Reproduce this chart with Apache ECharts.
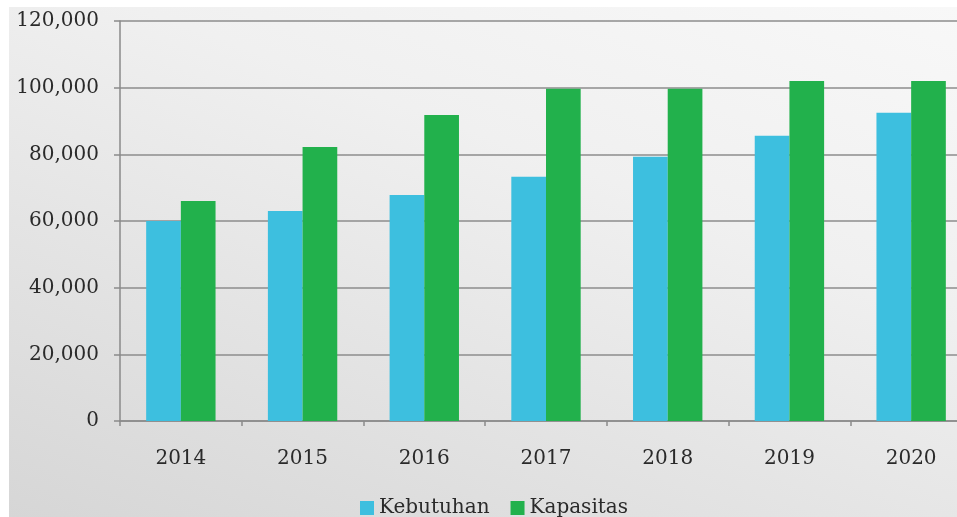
<!DOCTYPE html>
<html>
<head>
<meta charset="utf-8">
<script src="https://cdn.jsdelivr.net/npm/echarts@6/dist/echarts.min.js"></script>
<style>
html,body{margin:0;padding:0;background:#fff;}
#wrap{position:relative;width:957px;height:517px;overflow:hidden;background:#fff;}
#bg{position:absolute;left:9px;top:7px;right:0;bottom:0;background:linear-gradient(200deg,#f8f8f8 0%,#f0f0f0 35%,#e2e2e2 70%,#d6d6d6 100%);}
#c{position:absolute;left:0;top:0;width:957px;height:517px;}
</style>
</head>
<body>
<div id="wrap"><div id="bg"></div><div id="c"></div></div>
<script>
const years = ['2014','2015','2016','2017','2018','2019','2020'];
const kebutuhan = [60000, 63000, 67800, 73300, 79300, 85600, 92500];
const kapasitas = [66000, 82200, 91800, 99700, 99700, 102000, 102000];
const seriesNames = ['Kebutuhan', 'Kapasitas'];

const font = 'DejaVu Serif';
const chart = echarts.init(document.getElementById('c'), null, {renderer:'canvas'});
chart.setOption({
  backgroundColor: 'transparent',
  animation: false,
  grid: {left: 120, top: 21, width: 852, height: 400, containLabel: false, outerBoundsMode: 'none'},
  legend: {
    data: seriesNames,
    left: 355, top: 493,
    itemWidth: 14, itemHeight: 14, itemGap: 21,
    icon: 'rect',
    textStyle: {fontFamily: font, fontSize: 20, color: '#2a2a2a'}
  },
  xAxis: {
    type: 'category',
    data: years,
    axisLine: {lineStyle: {color: '#8a8a8a', width: 1.5}},
    axisTick: {show: true, length: 5, lineStyle: {color: '#8a8a8a', width: 1.5}},
    axisLabel: {fontFamily: font, fontSize: 20, color: '#2a2a2a', margin: 28}
  },
  yAxis: {
    type: 'value',
    min: 0, max: 120000, interval: 20000,
    axisLine: {show: true, lineStyle: {color: '#8a8a8a', width: 1.5}},
    axisTick: {show: true, length: 6, lineStyle: {color: '#8a8a8a', width: 1.5}},
    splitLine: {lineStyle: {color: '#8c8c8c', width: 1.5}},
    axisLabel: {fontFamily: font, fontSize: 20, color: '#2a2a2a', margin: 21,
      formatter: v => v.toLocaleString('en-US')}
  },
  series: [
    {name: seriesNames[0], type: 'bar', data: kebutuhan, barGap: '0%', barCategoryGap: '43%',
     itemStyle: {color: '#3dbfdf'}},
    {name: seriesNames[1], type: 'bar', data: kapasitas, barGap: '0%', barCategoryGap: '43%',
     itemStyle: {color: '#22b14c'}}
  ]
});
</script>
</body>
</html>
